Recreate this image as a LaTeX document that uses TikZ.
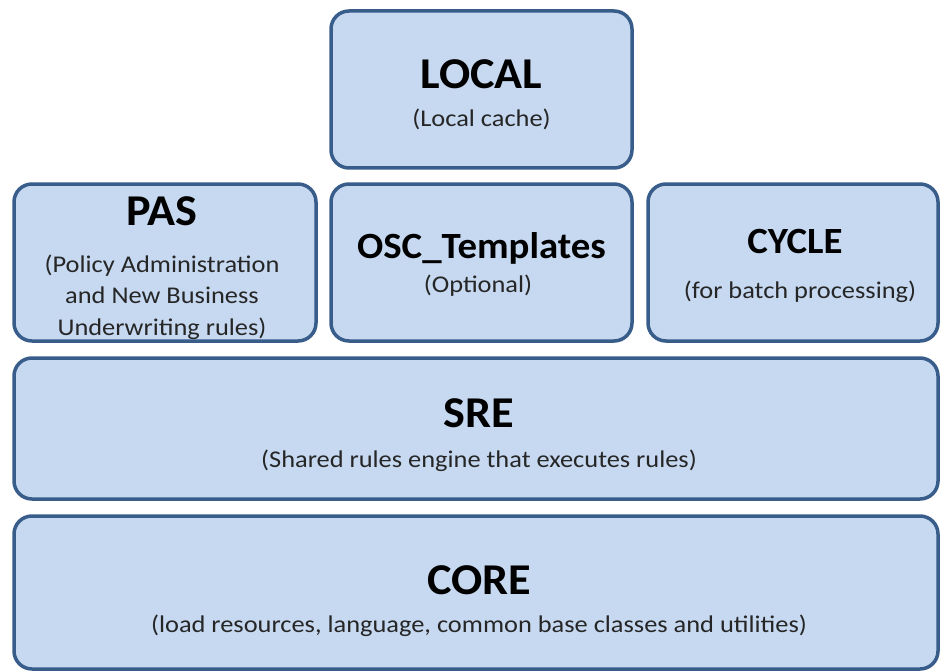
\documentclass[tikz,border=0pt]{standalone}
\usepackage{fontspec}
\setmainfont{Carlito}
\newfontfamily\subfont[FakeStretch=1.1]{Carlito}
\newfontfamily\headfont[FakeStretch=1.05]{Carlito}
\definecolor{boxfill}{HTML}{C6D9F1}
\definecolor{boxline}{HTML}{385D8A}
\definecolor{subtext}{HTML}{262626}
\tikzset{
  layer/.style={draw=boxline, fill=boxfill, line width=3.5pt, rounded corners=18pt, inner sep=0pt},
  headbig/.style={font=\headfont\bfseries\fontsize{44}{44}\selectfont, inner sep=0pt, anchor=base},
  headmid/.style={font=\headfont\bfseries\fontsize{37}{37}\selectfont, inner sep=0pt, anchor=base},
  sub/.style={font=\subfont\fontsize{24}{24}\selectfont, text=subtext, inner sep=0pt, anchor=base}
}
\begin{document}
\begin{tikzpicture}[x=1pt,y=-1pt]
\useasboundingbox (0,0) rectangle (941,671);
\node[layer, minimum width=301pt, minimum height=157pt] (local) at (481.5,89.5) {};
\node[layer, minimum width=302pt, minimum height=157pt] (pas) at (165,262.5) {};
\node[layer, minimum width=301pt, minimum height=157pt] (osc) at (481.5,262.5) {};
\node[layer, minimum width=290pt, minimum height=157pt] (cycle) at (793,262.5) {};
\node[layer, minimum width=924pt, minimum height=141pt] (sre) at (476,428.5) {};
\node[layer, minimum width=924pt, minimum height=153pt] (core) at (476,592.5) {};

\node[headbig] (localh) at (481.5,89) {LOCAL};
\node[sub] (locals) at (481.5,127) {(Local cache)};

\node[headbig] (pash) at (162,225) {PAS};
\node[sub] (pas1) at (162,272) {(Policy Administration};
\node[sub] (pas2) at (162,303) {and New Business};
\node[sub] (pas3) at (162,335) {Underwriting rules)};

\node[headmid] (osch) at (481.5,258) {OSC\_Templates};
\node[sub] (oscs) at (478,292) {(Optional)};

\node[headmid] (cycleh) at (795,253) {CYCLE};
\node[sub] (cycles) at (800,298) {(for batch processing)};

\node[headbig] (sreh) at (479,427) {SRE};
\node[sub] (sres) at (479,467) {(Shared rules engine that executes rules)};

\node[headbig] (coreh) at (479,594) {CORE};
\node[sub] (cores) at (479,632) {(load resources, language, common base classes and utilities)};
\end{tikzpicture}
\end{document}
